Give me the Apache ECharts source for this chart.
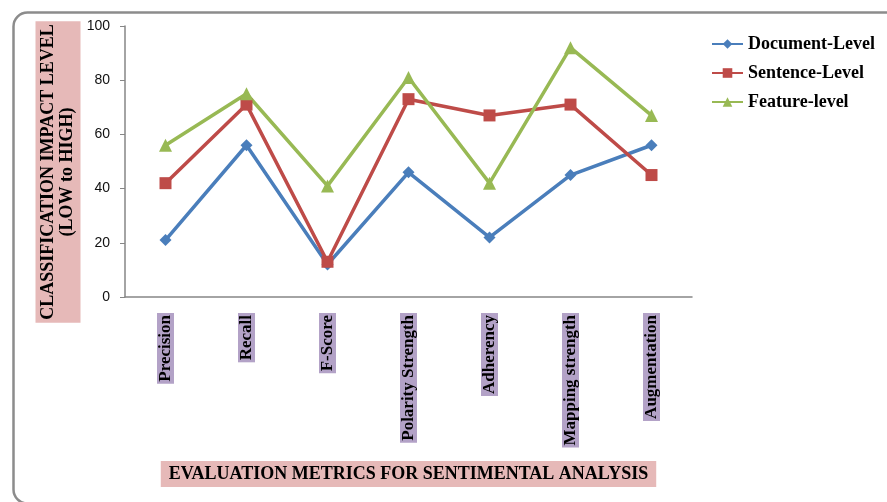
<!DOCTYPE html>
<html>
<head>
<meta charset="utf-8">
<script src="https://cdn.jsdelivr.net/npm/echarts@6/dist/echarts.min.js"></script>
<style>
  html, body { margin: 0; padding: 0; background: #fff; }
  #chart { width: 887px; height: 502px; }
</style>
</head>
<body>
<div id="chart"></div>
<script>
// Evaluation metrics on the category axis
const metrics = ['Precision', 'Recall', 'F-Score', 'Polarity Strength', 'Adherency', 'Mapping strength', 'Augmentation'];

// Impact level per classification granularity
const documentLevel = [21, 56, 12, 46, 22, 45, 56];
const sentenceLevel = [42, 71, 13, 73, 67, 71, 45];
const featureLevel  = [56, 75, 41, 81, 42, 92, 67];

const seriesNames = ['Document-Level', 'Sentence-Level', 'Feature-level'];
const yTicks = [0, 20, 40, 60, 80, 100];

const serif = '"Liberation Serif", "Times New Roman", serif';
const axisGray = '#868686';

const chart = echarts.init(document.getElementById('chart'));

function lineSeries(name, data, color, symbol, size) {
  return {
    name: name,
    type: 'line',
    data: data,
    symbol: symbol,
    symbolSize: size,
    showAllSymbol: true,
    lineStyle: { color: color, width: 3.5 },
    itemStyle: { color: color },
    emphasis: { disabled: true }
  };
}

chart.setOption({
  animation: false,
  backgroundColor: '#fff',
  grid: { left: 125, top: 26, right: 195, bottom: 205, containLabel: false },
  legend: {
    orient: 'vertical',
    left: 706,
    top: 30,
    itemWidth: 31,
    itemHeight: 12,
    itemGap: 11,
    data: seriesNames,
    textStyle: { fontFamily: serif, fontWeight: 'bold', fontSize: 18, color: '#000' }
  },
  xAxis: {
    type: 'category',
    data: metrics,
    boundaryGap: true,
    axisLine: { lineStyle: { color: axisGray, width: 1.5 } },
    axisTick: { alignWithLabel: true, length: 5, lineStyle: { color: axisGray } },
    axisLabel: {
      rotate: 90,
      interval: 0,
      margin: 16,
      fontFamily: serif,
      fontWeight: 'bold',
      fontSize: 17,
      lineHeight: 17,
      color: '#000',
      backgroundColor: '#b3a2c7',
      padding: [0, 2, 0, 2]
    },
    name: 'EVALUATION METRICS FOR SENTIMENTAL ANALYSIS',
    nameLocation: 'middle',
    nameGap: 164,
    nameTextStyle: {
      fontFamily: serif,
      fontWeight: 'bold',
      fontSize: 18,
      color: '#000',
      backgroundColor: '#e6b9b8',
      padding: [4, 8, 4, 8]
    }
  },
  yAxis: {
    type: 'value',
    min: yTicks[0],
    max: yTicks[yTicks.length - 1],
    interval: 20,
    splitLine: { show: false },
    axisLine: { show: true, lineStyle: { color: axisGray, width: 1.5 } },
    axisTick: { show: true, length: 5, lineStyle: { color: axisGray } },
    axisLabel: {
      margin: 15,
      fontFamily: '"Liberation Sans", Arial, sans-serif',
      fontSize: 14,
      color: '#111'
    }
  },
  graphic: [
    {
      // rounded frame around the plot area
      type: 'rect',
      left: 11,
      top: 10,
      shape: { width: 900, height: 491, r: 14 },
      style: { fill: 'none', stroke: '#8c8c8c', lineWidth: 2.5 },
      silent: true,
      z: -1
    },
    {
      // vertical axis title
      type: 'text',
      x: 58,
      y: 172,
      rotation: Math.PI / 2,
      style: {
        text: 'CLASSIFICATION IMPACT LEVEL\n(LOW to HIGH)',
        fontFamily: serif,
        fontWeight: 'bold',
        fontSize: 18,
        lineHeight: 19,
        fill: '#000',
        align: 'center',
        verticalAlign: 'middle',
        backgroundColor: '#e6b9b8',
        padding: [4, 3, 3, 3]
      },
      silent: true
    }
  ],
  series: [
    lineSeries(seriesNames[0], documentLevel, '#4a7ebb', 'diamond', 12),
    lineSeries(seriesNames[1], sentenceLevel, '#be4b48', 'rect', 12),
    lineSeries(seriesNames[2], featureLevel, '#98b954', 'triangle', 13)
  ]
});
</script>
</body>
</html>
